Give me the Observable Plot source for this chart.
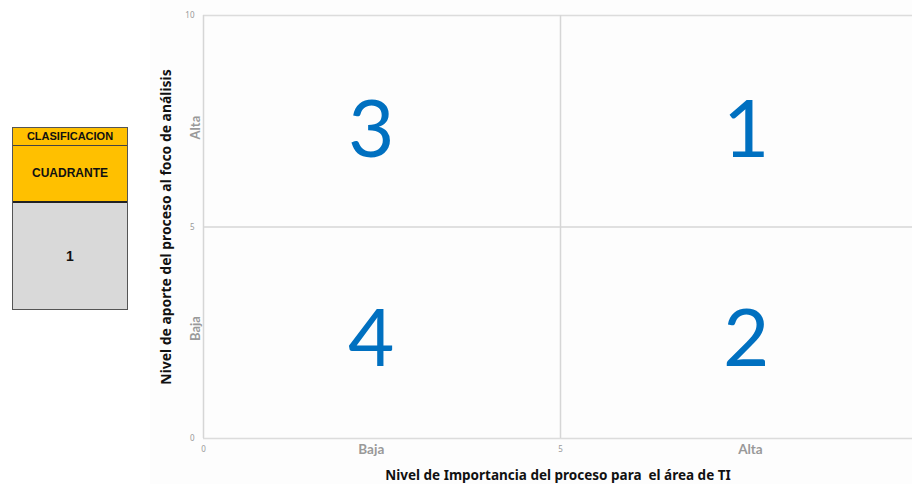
<!DOCTYPE html>
<html><head><meta charset="utf-8">
<script src="https://cdn.jsdelivr.net/npm/d3@7"></script>
<script src="https://cdn.jsdelivr.net/npm/@observablehq/plot@0.6"></script>
<style>
body{margin:0;background:#fff;width:912px;height:484px;overflow:hidden;position:relative;font-family:"Liberation Sans",Arial,sans-serif}
#chart{position:absolute;left:0;top:0}
#bg{position:absolute;left:150px;top:0;width:762px;height:484px;background:#fdfdfd}
#tbl{position:absolute;left:12px;top:127px;width:114px;border:1px solid #555;font-weight:bold;color:#111;text-align:center}
#tbl div{box-sizing:border-box}
.h1{height:18px;background:#ffc000;border-bottom:1px solid #444;font-size:11px;line-height:17px}
.h2{height:57px;background:#ffc000;border-bottom:2px solid #222;font-size:12px;line-height:55px}
.v{height:106px;background:#d9d9d9;font-size:14px;line-height:106px}
</style></head>
<body>
<div id="bg"></div>
<div id="tbl"><div class="h1">CLASIFICACION</div><div class="h2">CUADRANTE</div><div class="v">1</div></div>
<div id="chart"></div>
<script>
const quadrantLabels = ["3", "1", "4", "2"];
const quadrantX = [2.35, 7.6, 2.35, 7.6];
const quadrantY = [7.45, 7.45, 2.5, 2.5];
const levelLabels = ["Baja", "Alta"];
const levelPosX = [2.35, 7.66];
const levelPosY = [2.6, 7.35];
const xTicks = [0, 5];
const yTicks = [0, 5, 10];
const dividers = [5];
const xTitle = "Nivel de Importancia del proceso para  el área de TI";
const yTitle = "Nivel de aporte del proceso al foco de análisis";

const quads = quadrantLabels.map((t, i) => ({t, x: quadrantX[i], y: quadrantY[i]}));
const levelMapX = new Map(levelPosX.map((p, i) => [p, levelLabels[i]]));
const levelMapY = new Map(levelPosY.map((p, i) => [p, levelLabels[i]]));

const chart = Plot.plot({
  width: 912, height: 484,
  marginLeft: 203, marginRight: 0, marginTop: 15, marginBottom: 46,
  style: {background: "transparent", overflow: "visible"},
  x: {domain: [0, 9.93], range: [203, 912]},
  y: {domain: [0, 10]},
  marks: [
    Plot.ruleY([0, 10], {stroke: "#dcdcdc", strokeWidth: 1.5}),
    Plot.ruleY(dividers, {stroke: "#d6d6d6", strokeWidth: 1.5}),
    Plot.ruleX([0], {stroke: "#d6d6d6", strokeWidth: 1.5}),
    Plot.ruleX(dividers, {stroke: "#d6d6d6", strokeWidth: 1.5}),
    Plot.axisY(yTicks, {tickSize: 0, tickPadding: 9, fontSize: 8, fill: "#999", label: null}),
    Plot.axisY(levelPosY, {tickSize: 0, tickPadding: 0, fontSize: 13, fill: "#999", fontWeight: "bold", fontFamily: "Lato", rotate: -90, textAnchor: "middle", dx: -8, tickFormat: d => levelMapY.get(d), label: null}),
    Plot.axisY({ticks: [], label: yTitle, labelAnchor: "center", labelOffset: 42, fontSize: 13.9, fontWeight: "bold", fill: "#111", labelArrow: "none"}),
    Plot.axisX(xTicks, {tickSize: 0, tickPadding: 8, fontSize: 8, fill: "#999", label: null}),
    Plot.axisX(levelPosX, {tickSize: 0, tickPadding: 6, fontSize: 13.5, fill: "#999", fontWeight: "bold", fontFamily: "Lato", tickFormat: d => levelMapX.get(d), label: null}),
    Plot.axisX({ticks: [], label: xTitle, labelAnchor: "center", labelOffset: 41, fontSize: 13.5, fontWeight: "bold", fill: "#111", labelArrow: "none"}),
    Plot.text(quads, {x: "x", y: "y", text: "t", fontSize: 80, fill: "#0070c0", fontFamily: "Lato", dy: 8})
  ]
});
document.getElementById("chart").append(chart);
</script>
</body></html>
